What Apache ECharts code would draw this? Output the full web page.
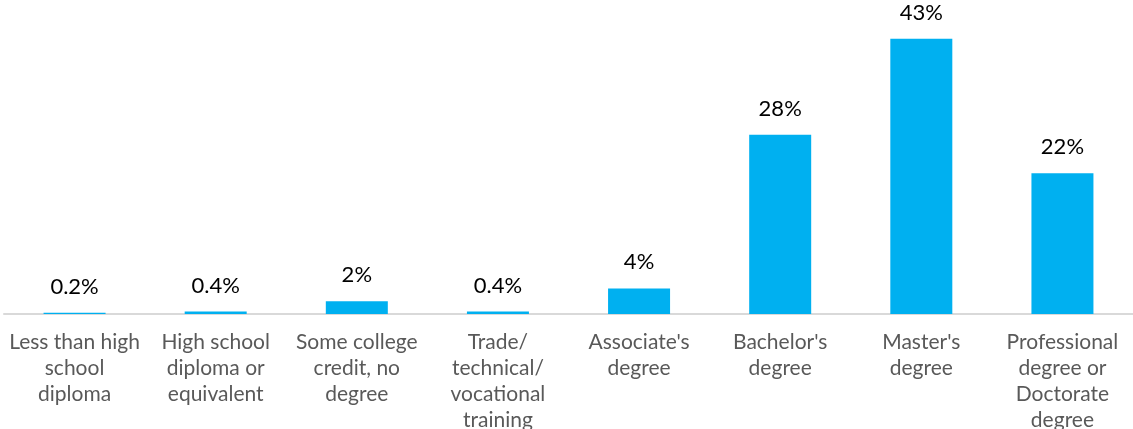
<!DOCTYPE html>
<html>
<head>
<meta charset="utf-8">
<script src="https://cdn.jsdelivr.net/npm/echarts@6/dist/echarts.min.js"></script>
<style>
  html, body { margin: 0; padding: 0; background: #fff; }
  #chart { width: 1133px; height: 429px; }
</style>
</head>
<body>
<div id="chart"></div>
<script>
// Education level share (%)
const categories = [
    'Less than high\nschool\ndiploma',
    'High school\ndiploma or\nequivalent',
    'Some college\ncredit, no\ndegree',
    'Trade/\ntechnical/\nvocational\ntraining',
    "Associate's\ndegree",
    "Bachelor's\ndegree",
    "Master's\ndegree",
    'Professional\ndegree or\nDoctorate\ndegree'
];
const values = [0.2, 0.4, 2, 0.4, 4, 28, 43, 22];
const valueLabels = ['0.2%', '0.4%', '2%', '0.4%', '4%', '28%', '43%', '22%'];

const chart = echarts.init(document.getElementById('chart'));

const option = {
    animation: false,
    backgroundColor: '#ffffff',
    grid: {
        left: 4,
        right: 0,
        top: 26,
        bottom: 115,
        outerBoundsMode: 'none',
        containLabel: false
    },
    xAxis: {
        type: 'category',
        data: categories,
        axisTick: { show: false },
        axisLine: {
            lineStyle: { color: '#d9d9d9', width: 2 }
        },
        axisLabel: {
            interval: 0,
            margin: 15,
            color: '#595959',
            fontFamily: 'Lato',
            fontSize: 21,
            lineHeight: 26
        }
    },
    yAxis: {
        type: 'value',
        min: 0,
        max: 45,
        show: false,
        splitLine: { show: false }
    },
    series: [
        {
            type: 'bar',
            data: values,
            barWidth: 62,
            itemStyle: { color: '#00b0f0' },
            label: {
                show: true,
                position: 'top',
                distance: 15,
                color: '#000000',
                fontFamily: 'Lato',
                fontSize: 22,
                formatter: function (p) {
                    return valueLabels[p.dataIndex];
                }
            }
        }
    ]
};

chart.setOption(option);
</script>
</body>
</html>
